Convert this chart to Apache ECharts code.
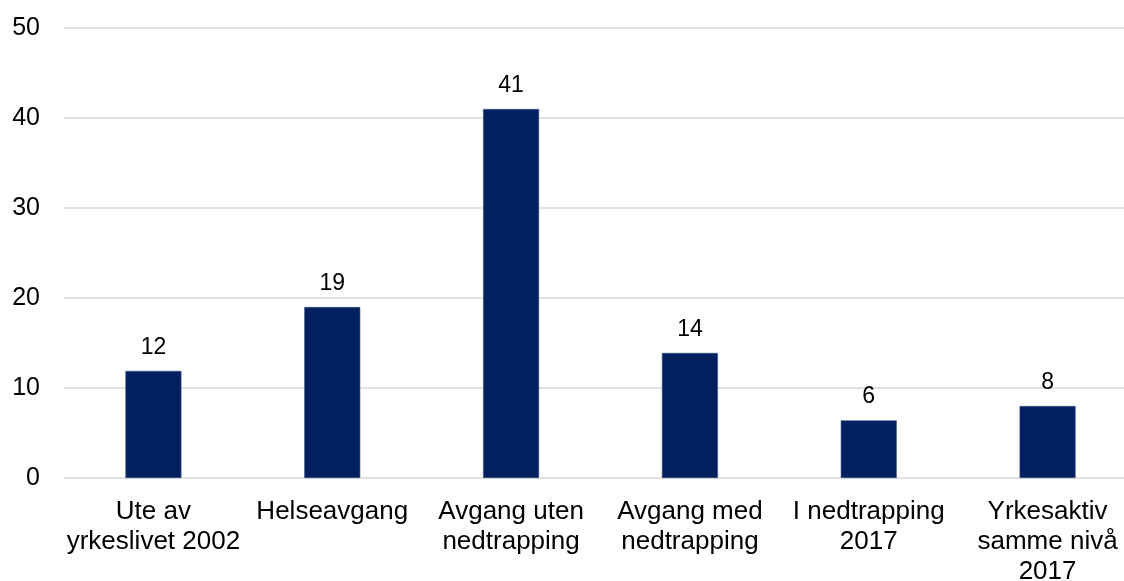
<!DOCTYPE html>
<html><head><meta charset="utf-8">
<script src="https://cdn.jsdelivr.net/npm/echarts@6/dist/echarts.min.js"></script>
<style>html,body{margin:0;padding:0;background:#fff}#c{width:1124px;height:581px}</style>
</head><body><div id="c"></div>
<script>
const categories = ['Ute av\nyrkeslivet 2002', 'Helseavgang', 'Avgang uten\nnedtrapping', 'Avgang med\nnedtrapping', 'I nedtrapping\n2017', 'Yrkesaktiv\nsamme nivå\n2017'];
const values = [11.9, 19, 41, 13.9, 6.4, 8];
const yTicks = [0, 10, 20, 30, 40, 50];

const chart = echarts.init(document.getElementById('c'));
chart.setOption({
  animation: false,
  grid: { left: 64, top: 28, width: 1073, bottom: 103, containLabel: false, outerBoundsMode: 'none' },
  xAxis: {
    type: 'category', data: categories,
    axisLine: { show: false }, axisTick: { show: false },
    axisLabel: { color: '#000', fontFamily: 'Liberation Sans', fontSize: 26, lineHeight: 30, margin: 19, interval: 0, hideOverlap: false }
  },
  yAxis: {
    type: 'value', min: yTicks[0], max: yTicks[yTicks.length - 1], interval: 10,
    axisLine: { show: false }, axisTick: { show: false },
    splitLine: { lineStyle: { color: '#d9d9d9', width: 1.5 } },
    axisLabel: { color: '#000', fontFamily: 'Liberation Sans', fontSize: 25, margin: 24 }
  },
  series: [{
    type: 'bar', data: values, barWidth: 56,
    itemStyle: { color: '#022060', borderColor: '#3a5283', borderWidth: 0.6 },
    label: { show: true, position: 'top', distance: 12, color: '#000', fontFamily: 'Liberation Sans', fontSize: 23,
      formatter: p => Math.round(p.value) }
  }]
});
</script></body></html>
